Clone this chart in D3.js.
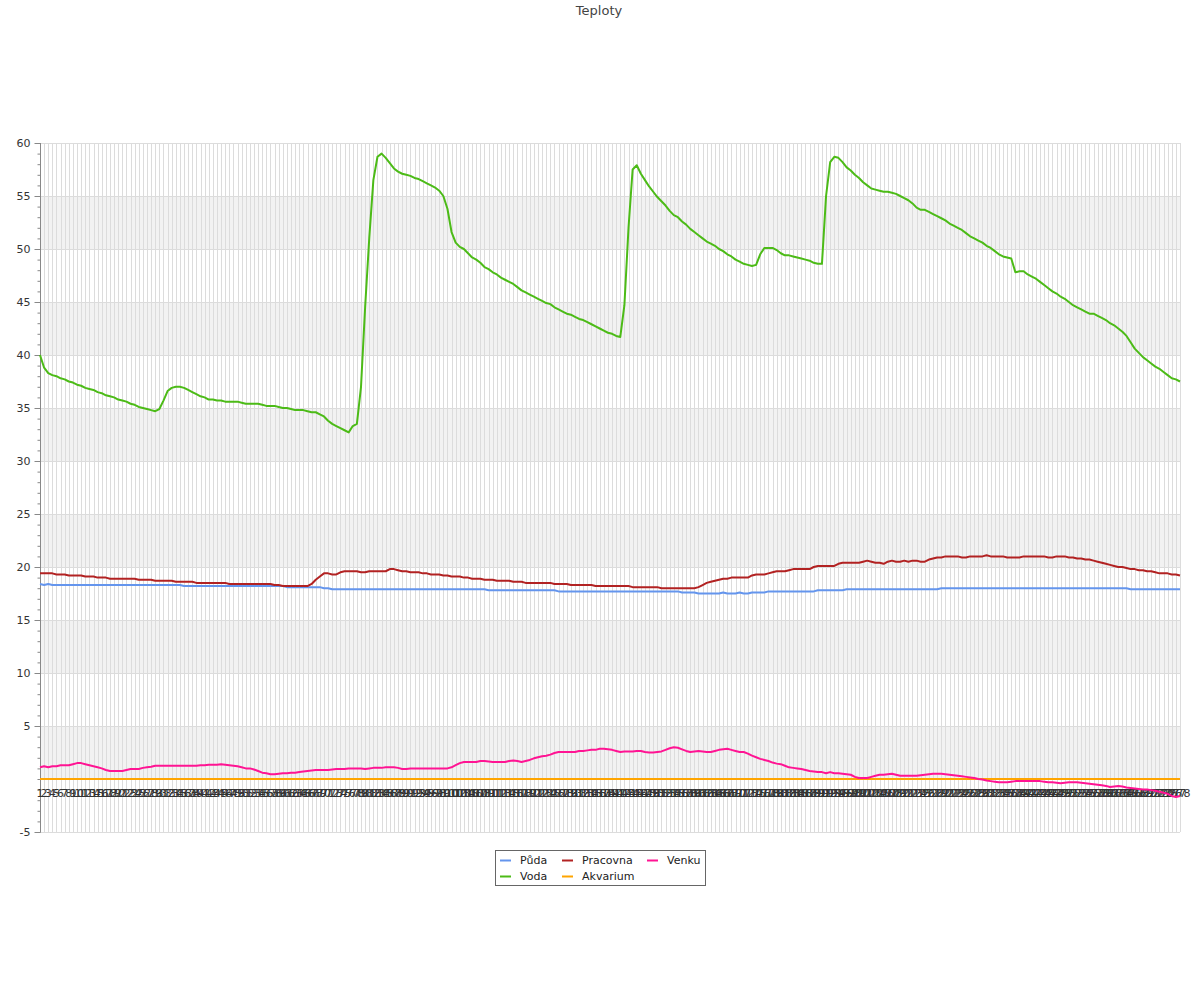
<!DOCTYPE html>
<html><head><meta charset="utf-8">
<script src="https://cdn.jsdelivr.net/npm/d3@7"></script>
<style>body{margin:0;background:#fff;}svg{display:block;font-family:"DejaVu Sans",sans-serif;}</style>
</head><body>
<svg id="c" width="1200" height="1000"></svg>
<script>
const title = "Teploty";
const seriesNames = ["Půda","Voda","Pracovna","Akvarium","Venku"];
const seriesColors = ["#6495ed","#4cbb17","#b22222","#ffa500","#ff1493"];
const yTicks = [60,55,50,45,40,35,30,25,20,15,10,5,-5];

const puda = [18.4,18.3,18.4,18.3,
 18.3,18.3,18.3,18.3,18.3,18.3,18.3,18.3,18.3,18.3,18.3,18.3,18.3,18.3,18.3,18.3,18.3,18.3,18.3,18.3,18.3,18.3,18.3,18.3,18.3,18.3,18.3,18.3,18.3,18.3,18.3,
 18.2,18.2,18.2,18.2,18.2,18.2,18.2,18.2,18.2,18.2,18.2,18.2,18.2,18.2,18.2,18.2,18.2,18.2,18.2,18.2,18.2,18.2,18.2,18.2,18.2,
 18.1,18.1,18.1,18.1,18.1,18.1,18.1,18.1,18.1,
 18.0,18.0,
 17.9,17.9,17.9,17.9,17.9,17.9,17.9,17.9,17.9,17.9,17.9,17.9,17.9,17.9,17.9,17.9,17.9,17.9,17.9,17.9,17.9,17.9,17.9,17.9,17.9,17.9,17.9,17.9,17.9,17.9,17.9,17.9,17.9,17.9,17.9,17.9,17.9,17.9,
 17.8,17.8,17.8,17.8,17.8,17.8,17.8,17.8,17.8,17.8,17.8,17.8,17.8,17.8,17.8,17.8,17.8,
 17.7,17.7,17.7,17.7,17.7,17.7,17.7,17.7,17.7,17.7,17.7,17.7,17.7,17.7,17.7,17.7,17.7,17.7,17.7,17.7,17.7,17.7,17.7,17.7,17.7,17.7,17.7,17.7,17.7,17.7,
 17.6,17.6,17.6,17.6,
 17.5,17.5,17.5,17.5,17.5,17.5,17.6,17.5,17.5,
 17.5,17.6,17.5,17.5,17.6,17.6,17.6,17.6,
 17.7,17.7,17.7,17.7,17.7,17.7,17.7,17.7,17.7,17.7,17.7,17.7,
 17.8,17.8,17.8,17.8,17.8,17.8,17.8,
 17.9,17.9,17.9,17.9,17.9,17.9,17.9,17.9,17.9,17.9,17.9,17.9,17.9,17.9,17.9,17.9,17.9,17.9,17.9,17.9,17.9,17.9,17.9,
 18.0,18.0,18.0,18.0,18.0,18.0,18.0,18.0,18.0,18.0,18.0,18.0,18.0,18.0,18.0,18.0,18.0,18.0,18.0,18.0,18.0,18.0,18.0,18.0,18.0,18.0,18.0,18.0,18.0,18.0,18.0,18.0,18.0,18.0,18.0,18.0,18.0,18.0,18.0,18.0,18.0,18.0,18.0,18.0,18.0,18.0,
 17.9,17.9,17.9,17.9,17.9,17.9,17.9,17.9,17.9,17.9,17.9,17.9,17.9];

const voda = [40.0,38.8,38.3,38.1,38.0,37.8,37.7,37.5,37.4,37.2,
 37.1,36.9,36.8,36.7,36.5,36.4,36.2,36.1,36.0,35.8,
 35.7,35.6,35.4,35.3,35.1,35.0,34.9,34.8,34.7,34.9,
 35.7,36.6,36.9,37.0,37.0,36.9,36.7,36.5,36.3,36.1,
 36.0,35.8,35.8,35.7,35.7,35.6,35.6,35.6,35.6,35.5,
 35.4,35.4,35.4,35.4,35.3,35.2,35.2,35.2,35.1,35.0,
 35.0,34.9,34.8,34.8,34.8,34.7,34.6,34.6,34.4,34.2,
 33.8,33.5,33.3,33.1,32.9,32.7,33.3,33.5,37.0,44.5,
 51.0,56.5,58.7,59.0,58.6,58.1,57.6,57.3,57.1,57.0,
 56.9,56.7,56.6,56.4,56.2,56.0,55.8,55.5,55.0,53.8,
 51.6,50.6,50.2,50.0,49.6,49.2,49.0,48.7,48.3,48.1,
 47.8,47.6,47.3,47.1,46.9,46.7,46.4,46.1,45.9,45.7,
 45.5,45.3,45.1,44.9,44.8,44.5,44.3,44.1,43.9,43.8,
 43.6,43.4,43.3,43.1,42.9,42.7,42.5,42.3,42.1,42.0,
 41.8,41.7,44.7,52.0,57.5,57.9,57.1,56.5,55.9,55.4,
 54.9,54.5,54.1,53.6,53.2,53.0,52.6,52.3,51.9,51.6,
 51.3,51.0,50.7,50.5,50.3,50.0,49.8,49.5,49.3,49.0,
 48.8,48.6,48.5,48.4,48.5,49.5,50.1,50.1,50.1,49.9,
 49.6,49.4,49.4,49.3,49.2,49.1,49.0,48.9,48.7,48.6,
 48.6,55.0,58.2,58.7,58.6,58.2,57.7,57.4,57.0,56.7,
 56.3,56.0,55.7,55.6,55.5,55.4,55.4,55.3,55.2,55.0,
 54.8,54.6,54.3,53.9,53.7,53.7,53.5,53.3,53.1,52.9,
 52.7,52.4,52.2,52.0,51.8,51.5,51.2,51.0,50.8,50.6,
 50.3,50.1,49.8,49.5,49.3,49.2,49.1,47.8,47.9,47.9,
 47.6,47.4,47.2,46.9,46.6,46.3,46.0,45.8,45.5,45.3,
 45.0,44.7,44.5,44.3,44.1,43.9,43.9,43.7,43.5,43.3,
 43.0,42.8,42.5,42.2,41.8,41.2,40.6,40.2,39.8,39.5,
 39.2,38.9,38.7,38.4,38.1,37.8,37.7,37.5];

const pracovna = [19.4,19.4,19.4,19.4,19.3,19.3,19.3,19.2,19.2,19.2,
 19.2,19.1,19.1,19.1,19.0,19.0,19.0,18.9,18.9,18.9,
 18.9,18.9,18.9,18.9,18.8,18.8,18.8,18.8,18.7,18.7,
 18.7,18.7,18.7,18.6,18.6,18.6,18.6,18.6,18.5,18.5,
 18.5,18.5,18.5,18.5,18.5,18.5,18.4,18.4,18.4,18.4,
 18.4,18.4,18.4,18.4,18.4,18.4,18.4,18.3,18.3,18.2,
 18.2,18.2,18.2,18.2,18.2,18.2,18.4,18.8,19.1,19.4,
 19.4,19.3,19.3,19.5,19.6,19.6,19.6,19.6,19.5,19.5,
 19.6,19.6,19.6,19.6,19.6,19.8,19.8,19.7,19.6,19.6,
 19.5,19.5,19.5,19.4,19.4,19.3,19.3,19.3,19.2,19.2,
 19.1,19.1,19.1,19.0,19.0,18.9,18.9,18.9,18.8,18.8,
 18.8,18.7,18.7,18.7,18.7,18.6,18.6,18.6,18.5,18.5,
 18.5,18.5,18.5,18.5,18.5,18.4,18.4,18.4,18.4,18.3,
 18.3,18.3,18.3,18.3,18.3,18.2,18.2,18.2,18.2,18.2,
 18.2,18.2,18.2,18.2,18.1,18.1,18.1,18.1,18.1,18.1,
 18.1,18.0,18.0,18.0,18.0,18.0,18.0,18.0,18.0,18.0,
 18.1,18.3,18.5,18.6,18.7,18.8,18.9,18.9,19.0,19.0,
 19.0,19.0,19.0,19.2,19.3,19.3,19.3,19.4,19.5,19.6,
 19.6,19.6,19.7,19.8,19.8,19.8,19.8,19.8,20.0,20.1,
 20.1,20.1,20.1,20.1,20.3,20.4,20.4,20.4,20.4,20.4,
 20.5,20.6,20.5,20.4,20.4,20.3,20.5,20.6,20.5,20.5,
 20.6,20.5,20.6,20.6,20.5,20.5,20.7,20.8,20.9,20.9,
 21.0,21.0,21.0,21.0,20.9,20.9,21.0,21.0,21.0,21.0,
 21.1,21.0,21.0,21.0,21.0,20.9,20.9,20.9,20.9,21.0,
 21.0,21.0,21.0,21.0,21.0,20.9,20.9,21.0,21.0,21.0,
 20.9,20.9,20.8,20.8,20.7,20.7,20.6,20.5,20.4,20.3,
 20.2,20.1,20.0,20.0,19.9,19.8,19.8,19.7,19.7,19.6,
 19.6,19.5,19.4,19.4,19.4,19.3,19.3,19.2];

const akvarium = [0,0,0,0,0,0,0,0,0,0,0,0,0,0,0,0,0,0,0,0,0,0,0,0,0,0,0,0,0,0,0,0,0,0,0,0,0,0,0,0,
 0,0,0,0,0,0,0,0,0,0,0,0,0,0,0,0,0,0,0,0,0,0,0,0,0,0,0,0,0,0,0,0,0,0,0,0,0,0,0,0,
 0,0,0,0,0,0,0,0,0,0,0,0,0,0,0,0,0,0,0,0,0,0,0,0,0,0,0,0,0,0,0,0,0,0,0,0,0,0,0,0,
 0,0,0,0,0,0,0,0,0,0,0,0,0,0,0,0,0,0,0,0,0,0,0,0,0,0,0,0,0,0,0,0,0,0,0,0,0,0,0,0,
 0,0,0,0,0,0,0,0,0,0,0,0,0,0,0,0,0,0,0,0,0,0,0,0,0,0,0,0,0,0,0,0,0,0,0,0,0,0,0,0,
 0,0,0,0,0,0,0,0,0,0,0,0,0,0,0,0,0,0,0,0,0,0,0,0,0,0,0,0,0,0,0,0,0,0,0,0,0,0,0,0,
 0,0,0,0,0,0,0,0,0,0,0,0,0,0,0,0,0,0,0,0,0,0,0,0,0,0,0,0,0,0,0,0,0,0,0,0,0,0];

const venku = [1.1,1.2,1.1,1.2,1.2,1.3,1.3,1.3,1.4,1.5,
 1.5,1.4,1.3,1.2,1.1,1.0,0.85,0.75,0.75,0.75,
 0.75,0.85,0.95,0.95,0.95,1.05,1.1,1.15,1.25,1.25,
 1.25,1.25,1.25,1.25,1.25,1.25,1.25,1.25,1.25,1.3,
 1.3,1.35,1.35,1.35,1.4,1.35,1.3,1.25,1.2,1.1,
 1.0,1.0,0.9,0.75,0.6,0.55,0.45,0.45,0.5,0.55,
 0.55,0.6,0.6,0.65,0.7,0.75,0.8,0.85,0.85,0.85,
 0.85,0.9,0.95,0.95,0.95,1.0,1.0,1.0,1.0,0.95,
 1.0,1.05,1.05,1.05,1.1,1.1,1.1,1.05,0.95,0.95,
 1.0,1.0,1.0,1.0,1.0,1.0,1.0,1.0,1.0,1.0,
 1.1,1.3,1.5,1.6,1.6,1.6,1.6,1.7,1.7,1.65,
 1.6,1.6,1.6,1.6,1.7,1.75,1.7,1.6,1.7,1.8,
 1.95,2.05,2.15,2.2,2.3,2.45,2.55,2.55,2.55,2.55,
 2.55,2.65,2.65,2.7,2.75,2.75,2.85,2.85,2.8,2.75,
 2.65,2.55,2.6,2.6,2.6,2.65,2.65,2.55,2.5,2.5,
 2.55,2.6,2.75,2.9,3.0,2.95,2.8,2.65,2.55,2.6,
 2.65,2.6,2.55,2.55,2.65,2.75,2.8,2.85,2.75,2.65,
 2.55,2.55,2.4,2.2,2.05,1.9,1.8,1.7,1.55,1.45,
 1.4,1.25,1.1,1.05,1.0,0.95,0.85,0.75,0.7,0.65,
 0.65,0.55,0.65,0.55,0.55,0.5,0.45,0.4,0.2,0.1,
 0.1,0.1,0.2,0.3,0.4,0.4,0.45,0.5,0.4,0.3,
 0.3,0.3,0.3,0.3,0.35,0.4,0.45,0.5,0.5,0.5,
 0.45,0.4,0.35,0.3,0.25,0.2,0.15,0.1,0.0,-0.05,
 -0.15,-0.2,-0.25,-0.3,-0.3,-0.3,-0.25,-0.2,-0.2,-0.2,
 -0.2,-0.2,-0.2,-0.2,-0.25,-0.3,-0.3,-0.35,-0.4,-0.35,
 -0.3,-0.3,-0.3,-0.35,-0.4,-0.45,-0.5,-0.55,-0.6,-0.65,
 -0.75,-0.7,-0.65,-0.7,-0.8,-0.85,-0.9,-0.95,-1.0,-1.0,
 -1.05,-1.1,-1.2,-1.3,-1.4,-1.6,-1.7,-1.6];

const categories = d3.range(1, voda.length + 1).map(String);
const seriesData = [puda, voda, pracovna, akvarium, venku];

const svg = d3.select("#c");
const L = 40, R = 1180, T = 143, B = 832;
const x = d3.scalePoint().domain(categories).range([L, R]);
const y = d3.scaleLinear().domain([-5, 60]).range([B, T]);

// title
svg.append("text").attr("x", 599).attr("y", 15).attr("text-anchor", "middle")
  .attr("font-size", 13).attr("fill", "#444").text(title);

// bands
const bands = [[0,5],[10,15],[20,25],[30,35],[40,45],[50,55]];
svg.append("g").selectAll("rect").data(bands).join("rect")
  .attr("x", L).attr("width", R - L)
  .attr("y", d => y(d[1])).attr("height", d => y(d[0]) - y(d[1]))
  .attr("fill", "#f2f2f2");

// vertical grid
svg.append("g").selectAll("line").data(categories).join("line")
  .attr("x1", d => Math.round(x(d)) + 0.5).attr("x2", d => Math.round(x(d)) + 0.5)
  .attr("y1", T).attr("y2", B).attr("stroke", "#dcdcdc").attr("stroke-width", 1);

// horizontal grid
const hg = d3.range(-5, 61, 5);
svg.append("g").selectAll("line").data(hg).join("line")
  .attr("x1", L).attr("x2", R)
  .attr("y1", d => Math.round(y(d)) + 0.5).attr("y2", d => Math.round(y(d)) + 0.5)
  .attr("stroke", "#dcdcdc");

// y axis
const yAxisG = svg.append("g").attr("transform", `translate(${L + 0.5},0)`);
yAxisG.call(d3.axisLeft(y).tickValues(d3.range(-5, 61, 1)).tickSize(3).tickFormat(""))
  .call(g => g.select(".domain").remove())
  .call(g => g.selectAll(".tick line").attr("stroke", "#888"));
const yMajor = svg.append("g").attr("transform", `translate(${L + 0.5},0)`);
yMajor.call(d3.axisLeft(y).tickValues(yTicks).tickSize(6).tickPadding(4).tickFormat(d => String(d)))
  .call(g => g.select(".domain").attr("stroke", "#888").attr("d", `M0,${T}V${B}`))
  .call(g => g.selectAll(".tick line").attr("stroke", "#888"))
  .call(g => g.selectAll(".tick text").attr("font-size", 11).attr("fill", "#333")
    .attr("font-family", "DejaVu Sans"));

// x axis at 0
svg.append("line").attr("x1", L).attr("x2", R)
  .attr("y1", Math.round(y(0)) + 0.5).attr("y2", Math.round(y(0)) + 0.5)
  .attr("stroke", "#666").attr("stroke-width", 1);

// x labels
svg.append("g").selectAll("text").data(categories).join("text")
  .attr("x", d => x(d)).attr("y", y(0) + 18).attr("text-anchor", "middle")
  .attr("font-size", 11).attr("fill", "#333").text(d => d);

// series
const line = d3.line().x((d, i) => x(categories[i])).y(d => y(d));
seriesData.forEach((s, k) => {
  svg.append("path").datum(s).attr("d", line).attr("fill", "none")
    .attr("stroke", seriesColors[k]).attr("stroke-width", 2).attr("stroke-linejoin", "round");
});

// legend
const lg = svg.append("g");
lg.append("rect").attr("x", 495.5).attr("y", 850.5).attr("width", 210).attr("height", 35)
  .attr("fill", "#fff").attr("stroke", "#666");
const legPos = [[500,860],[500,876],[562,860],[562,876],[647,860]];
seriesNames.forEach((n, k) => {
  const [lx, ly] = legPos[k];
  lg.append("line").attr("x1", lx).attr("x2", lx + 11).attr("y1", ly + 0.5).attr("y2", ly + 0.5)
    .attr("stroke", seriesColors[k]).attr("stroke-width", 2);
  lg.append("text").attr("x", lx + 20).attr("y", ly + 4).attr("font-size", 11)
    .attr("fill", "#222").text(n);
});
</script>
</body></html>
